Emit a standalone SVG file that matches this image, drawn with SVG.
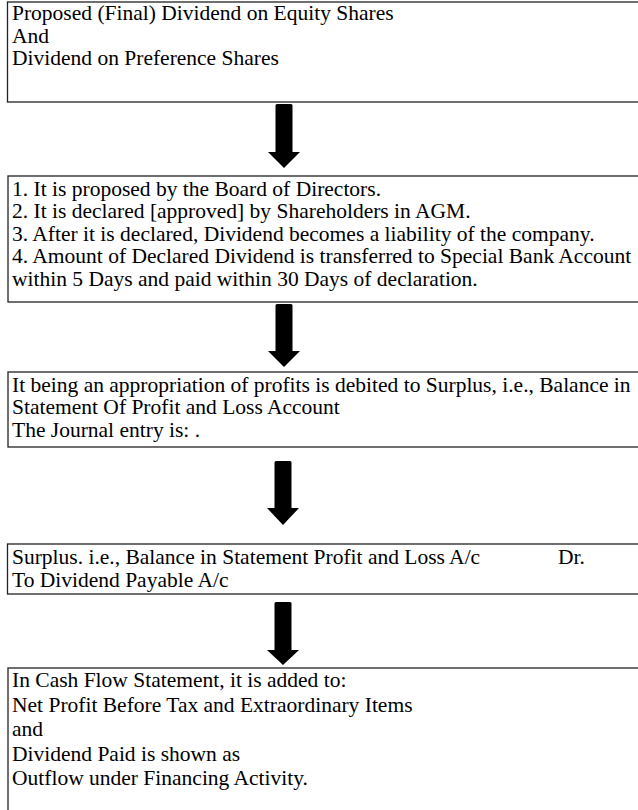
<svg xmlns="http://www.w3.org/2000/svg" width="638" height="810" viewBox="0 0 638 810">
<style>
.box{fill:#ffffff;stroke:#222222;stroke-width:1.3}
.t{font-family:"Liberation Serif","Times New Roman",serif;font-size:21.5px;fill:#000000}
.arr{fill:#000000}
</style>
<rect width="638" height="810" fill="#ffffff"/>
<g id="node1">
<rect class="box" x="7.5" y="2" width="700" height="100"/>
<text class="t" x="12" y="20">Proposed (Final) Dividend on Equity Shares</text>
<text class="t" x="12" y="42.5">And</text>
<text class="t" x="12" y="65">Dividend on Preference Shares</text>
</g>
<g id="node2">
<rect class="box" x="8" y="176" width="700" height="126"/>
<text class="t" x="12" y="195.5">1. It is proposed by the Board of Directors.</text>
<text class="t" x="12" y="218">2. It is declared [approved] by Shareholders in AGM.</text>
<text class="t" x="12" y="240.5">3. After it is declared, Dividend becomes a liability of the company.</text>
<text class="t" x="12" y="263">4. Amount of Declared Dividend is transferred to Special Bank Account</text>
<text class="t" x="12" y="285.5">within 5 Days and paid within 30 Days of declaration.</text>
</g>
<g id="node3">
<rect class="box" x="8" y="372" width="700" height="75"/>
<text class="t" x="12" y="391.5">It being an appropriation of profits is debited to Surplus, i.e., Balance in</text>
<text class="t" x="12" y="414">Statement Of Profit and Loss Account</text>
<text class="t" x="12" y="436.5">The Journal entry is: .</text>
</g>
<g id="node4">
<rect class="box" x="7.5" y="544" width="700" height="50"/>
<text class="t" x="12" y="564">Surplus. i.e., Balance in Statement Profit and Loss A/c</text>
<text class="t" x="558" y="564">Dr.</text>
<text class="t" x="12" y="587">To Dividend Payable A/c</text>
</g>
<g id="node5">
<rect class="box" x="8" y="668" width="700" height="200"/>
<text class="t" x="12" y="687">In Cash Flow Statement, it is added to:</text>
<text class="t" x="12" y="711.5">Net Profit Before Tax and Extraordinary Items</text>
<text class="t" x="12" y="736">and</text>
<text class="t" x="12" y="760.5">Dividend Paid is shown as</text>
<text class="t" x="12" y="785">Outflow under Financing Activity.</text>
</g>
<g id="connectors">
<path class="arr" d="M277,104 h14 a1.5,1.5 0 0 1 1.5,1.5 V152 H300 L284,168 L268,152 H275.5 V105.5 a1.5,1.5 0 0 1 1.5,-1.5 Z"/>
<path class="arr" d="M277,304 h14 a1.5,1.5 0 0 1 1.5,1.5 V351 H300 L284,367 L268,351 H275.5 V305.5 a1.5,1.5 0 0 1 1.5,-1.5 Z"/>
<path class="arr" d="M276,461 h14 a1.5,1.5 0 0 1 1.5,1.5 V508 H299 L283,525 L267,508 H274.5 V462.5 a1.5,1.5 0 0 1 1.5,-1.5 Z"/>
<path class="arr" d="M276,602 h14 a1.5,1.5 0 0 1 1.5,1.5 V650 H299 L283,665 L267,650 H274.5 V603.5 a1.5,1.5 0 0 1 1.5,-1.5 Z"/>
</g>
</svg>
